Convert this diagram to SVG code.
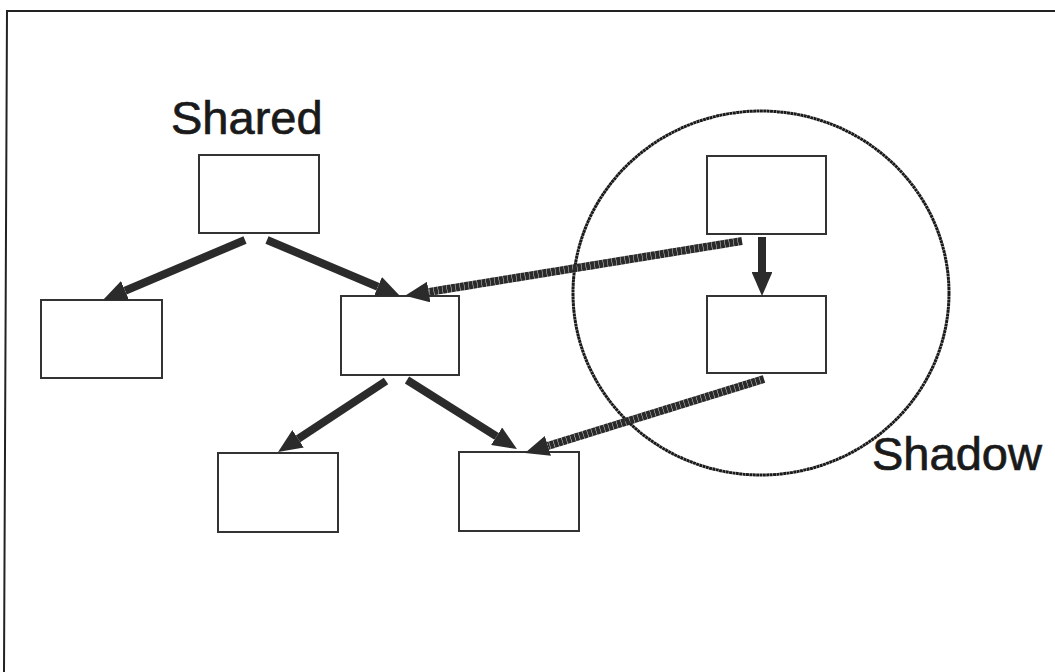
<svg xmlns="http://www.w3.org/2000/svg" width="1055" height="672" viewBox="0 0 1055 672">
  <style>
    .box { fill: #ffffff; stroke: #333333; stroke-width: 2; }
    .label { font-family: "Liberation Sans", Arial, Helvetica, sans-serif; font-size: 47px; fill: #1a1a1a; stroke: #1a1a1a; stroke-width: 0.7; }
    .edge { stroke: #2b2b2b; stroke-width: 8; fill: none; marker-end: url(#head); }
    .edge.grainy { stroke: #2a2a2a; stroke-dasharray: 4 0.4; }
    .frame { stroke: #222222; stroke-width: 2; fill: none; }
  </style>
  <defs>
    <marker id="head" viewBox="0 0 12 10" refX="0" refY="5" markerWidth="3" markerHeight="2.6" preserveAspectRatio="none" orient="auto">
      <path d="M0,0 L12,5 L0,10 z" fill="#2b2b2b"/>
    </marker>
  </defs>

  <rect width="1055" height="672" fill="#ffffff"/>

  <!-- page frame: top and left rules -->
  <polyline class="frame" points="1055,11 7,11 4,672"/>

  <!-- labels -->
  <text class="label" x="171" y="134">Shared</text>
  <text class="label" x="872" y="470">Shadow</text>

  <!-- shadow region -->
  <ellipse id="shadow-region" cx="761" cy="293" rx="188" ry="182" fill="none" stroke="#1a1a1a" stroke-width="3" stroke-dasharray="3 0.4"/>

  <!-- nodes -->
  <g id="shared-root"><rect class="box" x="199" y="155" width="120" height="78"/></g>
  <g id="shared-left"><rect class="box" x="41" y="300" width="121" height="78"/></g>
  <g id="shared-mid"><rect class="box" x="341" y="296" width="118" height="79"/></g>
  <g id="shared-bottom-left"><rect class="box" x="218" y="453" width="120" height="79"/></g>
  <g id="shared-bottom-right"><rect class="box" x="459" y="452" width="120" height="79"/></g>
  <g id="shadow-top"><rect class="box" x="707" y="156" width="119" height="78"/></g>
  <g id="shadow-bottom"><rect class="box" x="707" y="296" width="119" height="77"/></g>

  <!-- connectors -->
  <g id="connectors">
    <line class="edge" x1="245" y1="240" x2="125.1" y2="290.7"/>
    <line class="edge" x1="267" y1="240" x2="377.9" y2="286.7"/>
    <line class="edge" x1="386" y1="381" x2="298.1" y2="438.8"/>
    <line class="edge" x1="407" y1="380" x2="496.6" y2="436.3"/>
    <line class="edge" x1="762" y1="237" x2="762" y2="272"/>
    <line class="edge grainy" x1="742" y1="241" x2="428.7" y2="292"/>
    <line class="edge grainy" x1="764" y1="379" x2="547.9" y2="445.9"/>
  </g>
</svg>
